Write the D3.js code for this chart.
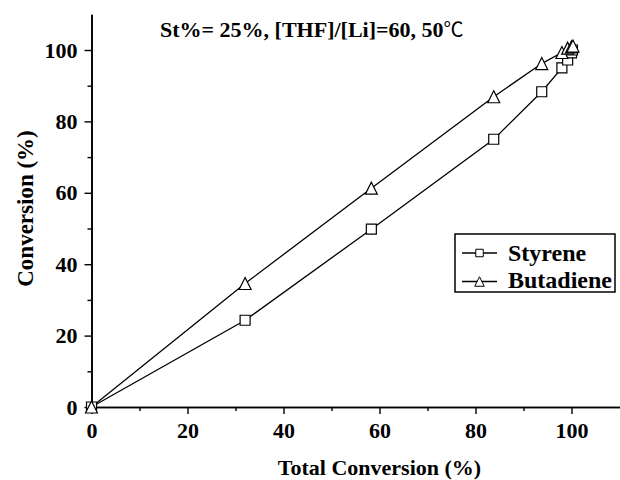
<!DOCTYPE html>
<html><head><meta charset="utf-8">
<script src="https://cdn.jsdelivr.net/npm/d3@7"></script>
<style>body{margin:0;background:#fff}</style>
</head><body>
<svg id="c" width="620" height="480"></svg>
<script>
// ---- data ----
const seriesNames = ["Styrene", "Butadiene"];
const styreneX = [0, 32, 58.3, 83.8, 93.8, 98, 99.2, 100, 100.2];
const styreneY = [0, 24.3, 49.8, 75, 88.3, 95, 97.2, 99.2, 100];
const butadieneX = [0, 32, 58.3, 83.8, 93.8, 98, 99.2, 100, 100.3];
const butadieneY = [0, 34.6, 61.3, 86.9, 96.2, 99.3, 100.5, 100.9, 101.1];
const xMajorTicks = [0, 20, 40, 60, 80, 100];
const xMinorTicks = [10, 30, 50, 70, 90];
const yMajorTicks = [0, 20, 40, 60, 80, 100];
const yMinorTicks = [10, 30, 50, 70, 90];
const titleText = "St%= 25%, [THF]/[Li]=60, 50";
const titleUnit = "℃";
const xTitle = "Total Conversion (%)";
const yTitle = "Conversion (%)";

const svg = d3.select("#c");
const FONT = "'Liberation Serif','Times New Roman',serif";
const x = d3.scaleLinear([0, 110], [91.5, 619.5]);
const y = d3.scaleLinear([0, 110], [407, 14.3]);

// axes
function styleAxis(g) {
  g.selectAll("path.domain").attr("stroke", "#000").attr("stroke-width", 1.6);
  g.selectAll(".tick line").attr("stroke", "#000").attr("stroke-width", 1.4);
  g.selectAll("text").attr("font-family", FONT).attr("font-weight", "bold")
    .attr("font-size", 22).attr("fill", "#000");
}
svg.append("g").attr("transform", "translate(0,407)")
  .call(d3.axisBottom(x).tickValues(xMinorTicks).tickSize(4).tickSizeOuter(0).tickFormat(""))
  .call(styleAxis);
svg.append("g").attr("transform", "translate(0,407)")
  .call(d3.axisBottom(x).tickValues(xMajorTicks).tickSize(7).tickSizeOuter(0).tickPadding(8.4))
  .call(styleAxis);
svg.append("g").attr("transform", "translate(91.5,0)")
  .call(d3.axisLeft(y).tickValues(yMinorTicks).tickSize(4).tickSizeOuter(0).tickFormat(""))
  .call(styleAxis);
svg.append("g").attr("transform", "translate(91.5,0)")
  .call(d3.axisLeft(y).tickValues(yMajorTicks).tickSize(7).tickSizeOuter(0).tickPadding(7))
  .call(styleAxis);

// titles
svg.append("text").attr("x", 379.5).attr("y", 475).attr("text-anchor", "middle")
  .attr("font-family", FONT).attr("font-weight", "bold").attr("font-size", 22).text(xTitle);
svg.append("text").attr("transform", "translate(33,208.5) rotate(-90)").attr("text-anchor", "middle")
  .attr("font-family", FONT).attr("font-weight", "bold").attr("font-size", 23).text(yTitle);
const tt = svg.append("text").attr("x", 160).attr("y", 37)
  .attr("font-family", FONT).attr("font-weight", "bold").attr("font-size", 22);
tt.append("tspan").text(titleText);
tt.append("tspan").attr("font-family", "'Noto Sans CJK SC'").attr("font-weight", "normal").attr("font-size", 20).text(titleUnit);

// series
const sqPath = s => `M${-s/2},${-s/2}h${s}v${s}h${-s}Z`;
const triPath = s => `M0,${-s/2}L${s/2},${s/2}L${-s/2},${s/2}Z`;
const series = [
  {name: seriesNames[0], xs: styreneX, ys: styreneY, shape: sqPath, size: 10, lsize: 7.5},
  {name: seriesNames[1], xs: butadieneX, ys: butadieneY, shape: triPath, size: 12, lsize: 9.5}
];
const line = d3.line().x(d => x(d[0])).y(d => y(d[1]));
series.forEach(s => {
  const pts = s.xs.map((v, i) => [v, s.ys[i]]);
  svg.append("path").datum(pts).attr("d", line).attr("fill", "none")
    .attr("stroke", "#000").attr("stroke-width", 1.3);
});
series.forEach(s => {
  const pts = s.xs.map((v, i) => [v, s.ys[i]]);
  svg.append("g").selectAll("path").data(pts).join("path")
    .attr("transform", d => `translate(${x(d[0])},${y(d[1])})`)
    .attr("d", s.shape(s.size)).attr("fill", "#fff").attr("stroke", "#000").attr("stroke-width", 1.2);
});

// legend
const lg = svg.append("g");
lg.append("rect").attr("x", 455).attr("y", 234).attr("width", 160).attr("height", 58)
  .attr("fill", "#fff").attr("stroke", "#000").attr("stroke-width", 1.5);
const legY = [253, 281.5];
const legBase = [260.7, 287.5];
series.forEach((s, i) => {
  lg.append("line").attr("x1", 462).attr("x2", 497).attr("y1", legY[i]).attr("y2", legY[i])
    .attr("stroke", "#000").attr("stroke-width", 1.3);
  lg.append("path").attr("transform", `translate(479.5,${legY[i]})`).attr("d", s.shape(s.lsize))
    .attr("fill", "#fff").attr("stroke", "#000").attr("stroke-width", 1);
  lg.append("text").attr("x", 508).attr("y", legBase[i]).attr("font-family", FONT)
    .attr("font-weight", "bold").attr("font-size", 24).text(s.name);
});
</script>
</body></html>
